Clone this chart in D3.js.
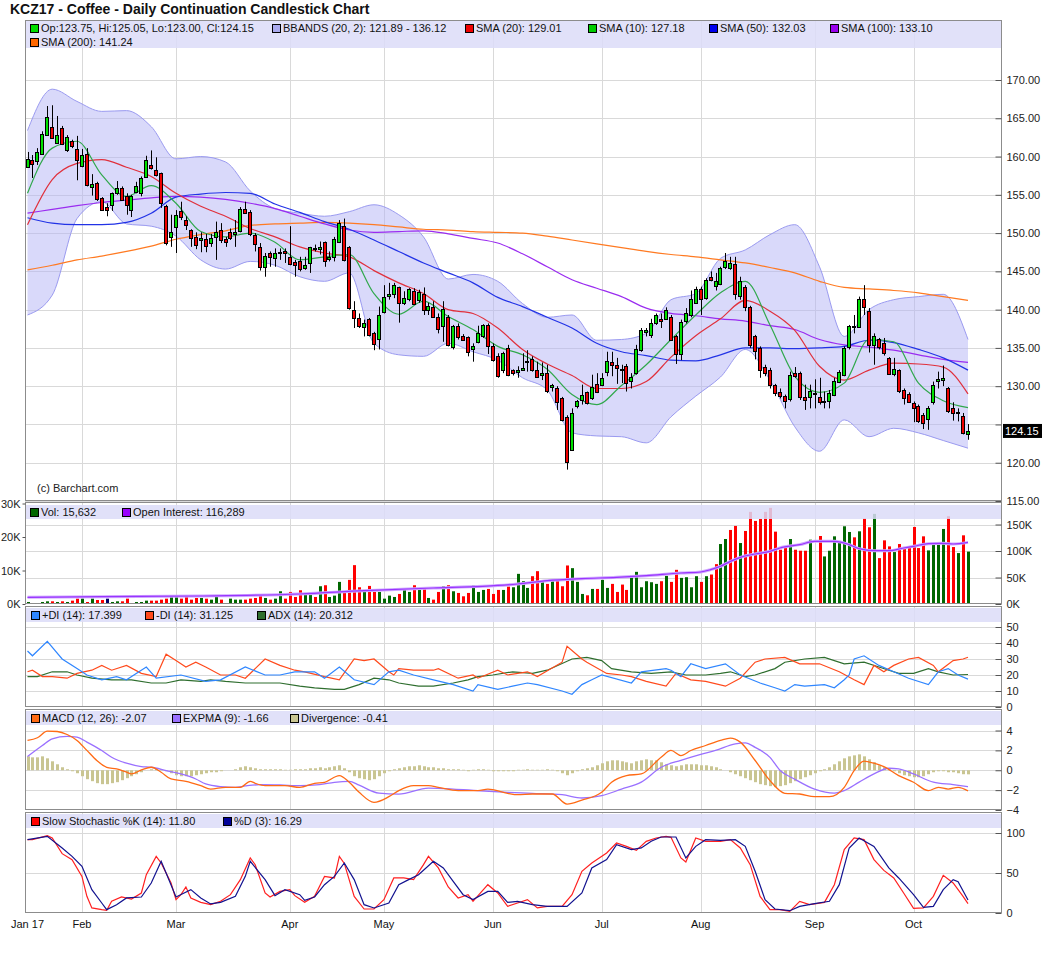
<!DOCTYPE html>
<html>
<head>
<meta charset="utf-8">
<title>KCZ17 - Coffee</title>
<script src="https://cdn.jsdelivr.net/npm/d3@7/dist/d3.min.js"></script>
<style>
body { margin: 0; background: #fff; }
svg { font-family: "Liberation Sans", Arial, sans-serif; }
</style>
</head>
<body>
<div id="chart"></div>
<script>
// ---- values ----
var titleText = "KCZ17 - Coffee - Daily Continuation Candlestick Chart";
var monthLabels = ["Jan 17", "Feb", "Mar", "Apr", "May", "Jun", "Jul", "Aug", "Sep", "Oct"];
var holidays = ["2017-02-20", "2017-04-14", "2017-05-29", "2017-07-04", "2017-09-04"];

var opens = [
  158.6,159.6,159.4,160.4,162.8,163.9,161.8,163.7,160.8,162.0,
  161.0,158.8,160.3,156.0,156.5,154.6,153.4,153.6,155.2,155.9,
  154.8,153.0,155.3,155.2,157.3,158.9,158.3,157.8,153.6,149.5,
  150.8,152.9,151.7,150.4,149.5,149.1,149.2,148.7,149.5,150.4,
  149.2,150.1,149.9,150.2,153.2,152.7,149.8,148.2,145.5,147.4,
  146.8,147.4,147.6,146.9,146.2,146.4,145.4,146.1,147.9,148.0,
  148.8,146.7,146.9,148.8,150.9,148.2,140.0,138.9,137.8,138.8,
  136.9,136.1,139.7,141.8,142.0,142.9,140.8,141.4,142.5,141.2,
  142.1,140.0,140.4,139.0,137.9,139.1,135.1,137.9,136.6,136.4,
  134.8,135.8,136.5,138.0,135.3,134.0,132.1,135.0,132.1,131.9,
  132.2,133.2,133.5,132.1,131.5,131.7,129.9,129.8,128.4,126.0,
  121.7,127.4,128.2,129.2,128.4,130.3,130.2,131.8,133.1,132.8,
  132.1,132.6,130.7,131.7,134.7,137.2,136.7,138.2,138.8,138.8,
  139.1,136.5,134.2,138.5,139.3,140.9,142.7,141.5,144.2,143.1,
  143.4,145.5,145.5,146.0,141.9,143.0,140.4,136.5,135.0,132.5,
  132.1,130.2,129.2,128.7,128.3,131.7,131.7,128.6,128.6,129.0,
  128.6,127.9,128.0,128.9,130.6,131.5,135.0,137.8,137.8,141.4,
  139.8,135.3,136.1,135.7,133.7,131.6,132.1,129.5,129.0,127.8,
  127.4,126.3,125.7,127.9,130.8,130.8,129.7,127.1,126.6,126.05,
  123.75];
var highs = [
  160.6,160.2,161.1,163.3,166.6,166.7,165.3,164.0,162.8,162.2,
  162.7,161.0,161.1,157.7,156.7,154.7,153.9,155.3,156.8,156.1,
  155.2,155.0,156.7,157.4,160.1,160.8,159.9,157.9,153.7,152.4,
  153.0,154.1,152.2,150.5,150.1,150.1,149.9,149.9,151.5,151.3,
  149.5,150.6,151.7,153.4,154.1,153.0,150.0,148.7,147.4,147.6,
  148.0,148.0,148.0,150.9,146.5,146.9,146.9,148.2,148.5,148.9,
  148.9,147.6,149.5,151.7,151.9,148.3,141.1,139.5,138.7,138.9,
  137.1,140.4,143.2,143.5,143.5,143.0,142.4,142.8,142.8,142.6,
  142.9,140.9,141.1,139.5,141.1,139.3,138.0,138.2,136.8,136.5,
  135.6,137.9,138.1,138.2,135.6,134.3,134.5,135.4,132.2,132.6,
  134.3,134.7,133.9,133.2,133.1,132.8,130.3,130.0,128.6,126.2,
  127.1,128.2,130.2,129.3,131.5,131.7,131.7,134.5,134.5,133.7,
  132.8,132.9,131.7,135.4,137.6,137.6,138.8,139.5,139.5,140.3,
  139.3,136.7,138.7,140.2,142.5,143.0,143.0,144.1,145.0,144.8,
  145.6,147.4,146.9,146.9,144.3,143.2,140.5,136.7,135.2,132.8,
  132.4,130.3,129.7,128.9,131.9,132.5,131.9,130.2,130.2,130.9,
  131.1,129.3,129.5,131.1,132.1,135.2,138.0,139.3,141.7,143.2,
  140.2,136.9,136.3,136.3,133.8,133.7,132.2,129.7,129.2,128.0,
  127.6,126.5,127.4,130.6,131.9,132.7,129.9,127.9,127.1,126.5,
  125.05];
var lows = [
  158.5,157.2,158.9,160.3,162.7,162.3,161.7,161.5,160.6,161.1,
  156.9,158.6,156.1,154.9,154.2,152.9,152.2,152.9,155.0,154.2,
  152.4,152.1,155.2,154.8,157.2,158.3,157.4,153.3,148.4,148.2,
  147.4,151.7,150.4,148.2,147.9,147.5,147.5,148.2,146.5,148.7,
  148.2,149.1,148.2,150.1,152.6,149.6,147.6,145.1,144.3,145.6,
  145.6,146.5,146.1,145.8,144.3,145.0,145.2,144.8,147.6,147.2,
  145.6,146.3,146.3,148.7,146.3,140.0,137.6,137.6,136.5,136.5,
  134.7,134.8,139.5,141.3,141.5,138.3,140.6,141.1,140.6,140.9,
  139.3,139.3,139.0,136.9,135.8,135.2,134.8,136.1,136.0,133.9,
  133.2,135.6,136.3,134.2,133.2,131.1,131.7,131.3,131.4,131.1,
  132.1,131.9,131.9,131.1,130.8,129.1,129.3,126.9,125.4,119.1,
  121.6,127.1,127.6,127.6,128.2,129.1,130.0,131.3,131.3,130.3,
  130.4,129.3,129.7,131.5,134.5,136.5,136.3,138.0,137.6,138.7,
  136.0,132.9,133.4,138.2,139.0,140.8,139.3,141.3,143.7,142.5,
  143.2,145.3,145.2,141.3,141.3,139.8,135.0,133.5,131.1,131.3,
  129.7,128.7,128.4,127.1,128.0,131.1,128.2,126.9,127.1,127.1,
  127.6,127.1,127.1,128.7,130.4,131.3,134.8,136.9,137.6,139.3,
  134.4,132.8,134.8,134.0,131.5,131.3,129.1,127.6,127.8,125.3,
  125.2,124.4,124.3,127.6,129.7,130.0,126.5,125.5,125.4,123.7,
  123.00];
var closes = [
  159.7,159.1,160.6,163.0,165.2,162.4,162.8,161.6,162.5,161.4,
  159.5,160.2,156.2,156.4,154.4,153.0,153.0,155.2,155.9,154.3,
  153.6,154.8,156.1,157.2,159.5,158.5,157.6,153.9,148.8,150.2,
  152.4,152.1,151.0,149.3,148.5,149.4,148.3,149.3,150.2,149.1,
  148.8,149.3,150.1,153.1,152.7,149.8,148.6,145.6,147.0,146.9,
  147.4,147.5,147.4,146.0,145.8,145.3,145.8,148.2,148.0,148.2,
  146.3,146.9,149.2,151.3,146.5,140.2,138.9,137.8,138.3,136.7,
  135.5,139.3,141.6,142.0,143.2,140.8,141.5,142.7,140.8,142.3,
  140.0,140.5,139.1,137.4,140.1,135.4,137.8,136.4,136.1,134.5,
  135.2,137.0,138.0,135.3,133.5,131.4,134.3,131.5,131.7,132.1,
  132.4,133.3,132.1,131.2,131.7,129.3,130.1,128.0,125.5,120.1,
  126.5,128.0,128.9,127.8,129.9,129.3,131.1,133.3,132.7,132.4,
  132.2,130.4,131.2,134.8,137.3,137.4,138.3,139.3,138.6,140.0,
  136.1,134.2,138.4,139.5,141.4,142.7,141.4,143.9,143.8,143.7,
  145.5,146.3,146.1,142.1,143.8,140.4,135.5,134.5,132.1,131.7,
  130.2,129.1,128.7,128.0,131.4,131.3,128.6,128.2,129.4,129.1,
  127.9,128.0,129.1,130.7,131.9,135.0,137.8,137.7,141.4,140.3,
  135.4,136.5,135.0,134.4,131.6,132.3,129.3,128.4,128.0,127.1,
  125.4,125.2,127.1,130.1,131.0,131.1,126.7,126.4,126.5,123.8,
  124.15];

// volume in thousands of contracts
var volK = [
  0.6,0.3,0.2,0.6,0.8,0.8,0.6,0.8,0.6,1.0,
  1.6,1.6,0.6,1.6,1.2,1.2,1.6,0.6,0.8,0.8,
  1.6,0.3,0.6,0.6,1.0,1.0,1.0,1.3,1.6,2.1,
  2.2,1.6,2.1,1.3,1.8,1.8,1.6,1.3,2.4,1.3,
  0.3,1.6,1.3,1.3,1.3,1.6,1.8,2.6,1.8,1.3,
  1.6,3.8,1.6,3.6,2.1,4.1,3.3,2.8,2.1,5.3,
  5.6,2.1,2.5,6.6,3.3,7.2,11.6,5.0,4.2,5.4,
  3.6,3.6,1.6,2.5,2.1,3.0,4.5,3.6,5.6,4.2,
  4.8,1.8,1.3,3.6,5.3,5.6,3.8,3.3,2.3,3.3,
  5.6,3.6,4.2,4.5,3.0,4.2,4.2,5.2,5.0,9.0,
  6.8,4.8,8.3,9.8,6.8,6.0,6.8,7.3,5.3,11.5,
  10.7,6.6,3.0,2.6,4.5,4.5,7.2,4.8,6.0,3.6,
  5.8,4.2,8.6,9.6,5.0,6.8,6.5,6.0,6.8,8.4,
  6.6,10.2,7.8,8.0,5.0,8.3,6.6,8.3,8.8,11.9,
  17.9,19.4,22.1,23.3,18.2,21.8,27.5,24.8,25.4,27.5,
  28.7,21.6,16.2,16.7,19.4,16.2,15.9,15.9,19.2,0,
  20.3,14.2,15.9,20.2,18.7,23.2,21.5,19.9,21.7,25.5,
  22.9,26.9,13.7,19.0,17.2,15.5,17.9,16.5,16.7,23.0,
  16.7,20.2,16.0,18.2,17.7,22.4,26.2,17.0,15.2,20.5,
  15.632];

// open interest (thousands), read at these bars
var oiBars = [0,15,35,55,68,82,92,99,105,112,119,125,132,136,138,140,142,144,147,150,152,156,159,163,166,168,171,174,177,179,182,185,187,190];
var oiK = [12.6,13.8,15.1,18.9,25.2,30.2,33.3,37.7,44.0,47.8,50.3,53.5,58.5,60.4,64.8,71.1,80.5,88.1,94.3,99.4,105.7,112.0,118.2,118.2,112.0,104.4,100.6,100.6,105.7,108.8,113.8,114.5,113.2,116.3];

// overlay studies, read every 5th bar
var maBars = d3.range(0, 191, 5);
var sma10 = [155.2,161.1,162.0,157.6,154.8,156.2,153.9,150.2,149.5,150.0,148.8,146.5,146.9,147.2,142.1,139.4,141.1,139.1,137.4,135.2,134.1,132.2,128.9,127.6,130.1,132.8,136.1,139.3,142.2,143.7,138.0,131.3,129.2,130.4,136.1,135.8,130.4,128.1,127.2];
var sma20 = [151.1,157.0,159.1,159.6,158.6,157.4,155.2,153.5,152.2,150.6,149.5,148.2,147.4,146.9,145.1,143.5,142.1,140.0,139.5,137.6,134.8,132.9,131.4,129.7,129.7,130.6,133.8,136.6,138.8,141.2,139.8,137.3,132.6,130.8,132.1,133.0,132.9,132.5,129.0];
var sma50 = [152.0,151.3,151.1,151.1,151.4,152.6,154.7,155.1,155.3,155.2,153.8,152.7,151.5,150.5,149.1,147.6,146.1,144.8,143.5,141.6,140.4,139.0,137.6,135.6,134.5,134.0,133.4,133.3,134.1,135.0,135.0,134.9,135.0,135.2,136.0,135.7,134.8,133.7,132.1];
var sma100 = [152.6,153.1,153.6,154.0,154.3,154.6,154.8,154.7,154.4,153.9,153.2,152.2,151.2,150.4,150.1,150.2,150.3,149.9,149.3,148.7,147.3,145.6,143.9,142.8,141.7,140.2,139.5,139.2,138.8,138.5,137.9,137.4,136.1,135.4,135.1,134.7,134.1,133.5,133.1];
var sma200 = [145.2,145.8,146.5,147.0,147.6,148.3,149.2,149.8,150.3,151.0,151.2,151.3,151.4,151.3,151.1,150.8,150.5,150.4,150.2,150.1,150.0,149.6,149.1,148.6,148.1,147.6,147.2,146.9,146.5,146.1,145.5,144.8,143.7,142.9,142.7,142.5,142.2,141.7,141.2];
var bbUpper = [163.4,168.8,167.2,165.9,166.0,163.9,159.7,160.0,159.3,155.5,153.2,152.6,152.2,152.8,153.7,152.4,149.5,144.0,144.6,143.7,140.8,139.0,139.3,136.0,136.1,136.9,141.3,142.1,146.7,147.8,149.8,151.1,145.6,136.5,140.0,141.3,141.7,142.0,136.1];
var bbLower = [139.3,141.9,151.9,154.1,151.2,150.9,149.6,146.5,145.3,146.3,145.8,144.3,143.7,144.8,135.6,134.1,133.9,135.6,134.5,133.4,131.1,129.5,123.9,123.5,123.4,122.6,126.0,128.7,131.2,134.8,130.8,124.7,121.5,125.6,123.4,124.5,123.9,122.9,121.9];

// [bar, value] readings of the lower studies
var plusDI = [[0,35],[1,32],[4,41],[7,30],[10,24],[12,20],[15,17],[18,19],[20,17],[24,25],[26,18],[31,20],[36,16],[39,17],[44,25],[48,20],[51,20],[54,22],[58,22],[60,18],[63,25],[66,17],[70,14],[73,22],[75,23],[78,20],[82,17],[86,14],[90,10],[91,14],[95,11],[98,13],[101,15],[103,14],[108,10],[110,8],[112,14],[114,17],[116,20],[122,15],[124,22],[129,24],[130,23],[132,19],[134,27],[137,24],[141,27],[144,20],[148,15],[151,12],[153,10],[155,14],[157,13],[161,14],[163,12],[165,17],[166,20],[167,30],[169,32],[172,26],[175,22],[178,18],[182,14],[184,22],[186,24],[188,20],[190,17.4]];
var minusDI = [[0,22],[1,23],[3,19],[5,19],[8,18],[10,21],[13,23],[15,26],[17,23],[20,26],[23,21],[26,19],[28,33],[30,29],[32,25],[34,28],[36,25],[39,20],[42,20],[44,18],[48,30],[51,26],[54,23],[56,22],[60,19],[63,17],[66,30],[68,29],[70,30],[73,22],[74,20],[75,24],[78,23],[82,23],[83,24],[87,18],[90,20],[91,18],[95,23],[97,20],[101,22],[103,19],[108,28],[109,38],[112,30],[113,28],[117,21],[120,20],[122,19],[125,16],[129,13],[131,21],[134,17],[137,16],[141,13],[144,18],[147,28],[149,30],[153,31],[156,27],[160,27],[164,22],[167,17],[169,14],[171,26],[173,22],[175,26],[178,30],[180,31],[183,26],[184,22],[187,29],[189,30],[190,31.1]];
var adx = [[0,19],[2,19],[5,22],[8,22],[10,20],[13,18],[17,17],[21,17],[25,15],[28,15],[31,17],[35,16],[37,17],[40,16],[44,15],[48,15],[51,15],[55,13],[58,12],[62,11],[64,11],[67,14],[70,18],[73,17],[75,15],[79,13],[82,13],[86,15],[89,17],[91,19],[94,20],[98,22],[102,21],[105,23],[110,30],[113,31],[116,29],[118,24],[122,22],[126,21],[130,22],[133,20],[137,20],[140,21],[142,22],[145,19],[147,20],[151,24],[153,28],[157,30],[161,31],[165,27],[169,28],[172,25],[176,21],[179,21],[182,24],[184,22],[187,20],[190,20.3]];

var macdLine = [[0,3.0],[2,3.27],[4,3.94],[6,3.9],[8,3.6],[10,3.0],[12,2.0],[14,0.98],[16,0.3],[18,0.13],[20,-0.2],[21,-0.37],[23,0.03],[25,0.3],[27,-0.2],[29,-0.88],[32,-1.11],[35,-1.55],[37,-1.89],[40,-1.72],[43,-1.72],[45,-1.11],[46,-1.31],[48,-1.55],[52,-1.55],[55,-1.72],[58,-1.31],[60,-1.21],[63,-0.54],[65,-1.21],[67,-2.22],[70,-3.23],[73,-2.66],[75,-2.05],[78,-1.55],[81,-1.55],[83,-1.72],[87,-2.05],[91,-2.05],[93,-1.89],[97,-2.32],[99,-2.46],[102,-2.39],[106,-2.39],[109,-3.4],[112,-3.0],[116,-2.22],[118,-1.21],[121,-0.54],[124,-0.37],[128,1.31],[130,1.99],[132,1.48],[134,1.99],[137,2.49],[140,3.0],[142,3.23],[144,2.83],[147,0.98],[150,-1.04],[153,-2.32],[156,-2.39],[159,-2.66],[162,-2.66],[165,-1.72],[167,-0.03],[169,0.91],[171,0.71],[173,0.37],[176,-0.54],[179,-1.21],[182,-2.05],[184,-1.72],[186,-1.89],[188,-1.72],[190,-2.07]];
var signalLine = [[0,1.38],[3,2.49],[5,3.16],[8,3.4],[10,3.33],[12,2.83],[15,1.99],[17,1.31],[20,0.71],[23,0.37],[25,0.3],[28,-0.03],[31,-0.37],[34,-0.88],[36,-1.38],[39,-1.65],[42,-1.72],[44,-1.58],[47,-1.45],[51,-1.48],[55,-1.55],[59,-1.45],[62,-1.21],[65,-1.11],[67,-1.5],[71,-2.3],[75,-2.4],[81,-1.8],[86,-1.89],[91,-2.05],[97,-2.22],[102,-2.32],[108,-2.46],[112,-2.79],[116,-2.56],[120,-1.9],[124,-1.2],[128,0.3],[132,1.0],[136,1.6],[139,2.0],[143,2.65],[145,2.75],[147,2.3],[150,1.3],[152,0.0],[155,-0.9],[159,-1.9],[163,-2.3],[165,-2.05],[168,-1.2],[171,-0.37],[174,0.2],[176,0.13],[179,-0.37],[183,-1.2],[187,-1.45],[190,-1.66]];
var divergence = [
  1.4,1.3,1.3,1.4,1.2,0.9,0.6,0.3,0.1,-0.1,
  -0.3,-0.6,-0.9,-1.1,-1.3,-1.4,-1.4,-1.3,-1.2,-1.0,
  -0.8,-0.6,-0.4,-0.2,0.0,0.1,0.2,0.1,-0.1,-0.3,
  -0.5,-0.6,-0.6,-0.6,-0.5,-0.4,-0.3,-0.2,-0.2,-0.1,
  0.0,0.0,0.1,0.3,0.4,0.3,0.2,0.1,0.1,0.1,
  0.1,0.1,0.05,0.05,0.1,0.1,0.1,0.2,0.2,0.3,
  0.2,0.3,0.4,0.5,0.2,-0.2,-0.6,-0.8,-0.9,-1.0,
  -0.9,-0.6,-0.3,-0.1,0.1,0.2,0.3,0.4,0.4,0.5,
  0.4,0.3,0.3,0.2,0.2,0.1,0.1,0.1,0.05,-0.1,
  0.05,0.1,0.1,0.05,-0.1,-0.1,-0.1,-0.1,-0.1,0.05,
  0.05,0.1,0.05,0.05,0.05,0.1,0.05,-0.1,-0.3,-0.5,
  -0.3,-0.1,0.1,0.2,0.3,0.5,0.7,0.9,1.0,1.0,
  0.9,0.8,0.7,0.9,1.0,1.1,1.0,1.0,0.8,0.6,
  0.5,0.4,0.5,0.6,0.6,0.6,0.5,0.5,0.4,0.3,
  0.1,0.0,-0.2,-0.4,-0.6,-0.8,-1.0,-1.2,-1.4,-1.5,
  -1.6,-1.7,-1.6,-1.5,-1.3,-1.1,-0.9,-0.7,-0.5,-0.3,
  -0.1,0.1,0.3,0.6,0.9,1.2,1.4,1.5,1.6,1.4,
  1.1,0.8,0.5,0.3,0.1,-0.1,-0.3,-0.5,-0.6,-0.7,
  -0.7,-0.6,-0.4,-0.2,-0.1,-0.1,-0.2,-0.2,-0.3,-0.4,
  -0.41];

var stochK = [[0,91.7],[1,91.7],[4,96.7],[5,93.8],[7,74.2],[9,66.7],[11,45.8],[12,20.8],[13,6.3],[15,4.2],[16,3.3],[17,14.6],[19,20],[21,17.5],[23,25],[24,47.9],[26,70.8],[27,62.5],[29,37.5],[30,16.7],[31,22.9],[32,32.5],[33,18.8],[35,13.3],[37,10.4],[39,14.6],[41,22.9],[43,41.7],[45,68.8],[46,60.4],[48,25],[49,20],[51,27],[53,29.2],[54,21.7],[56,13.3],[58,20.8],[60,45.8],[62,43.8],[63,70.8],[64,62],[66,20.8],[68,5],[70,5],[72,16.7],[74,43.8],[76,43.8],[78,41.7],[80,60.4],[81,70.8],[83,56.3],[85,32.5],[87,18.8],[89,22.9],[90,14.6],[93,35.4],[95,25],[97,8.3],[99,12.5],[101,16.7],[103,6.3],[105,8.3],[108,8.3],[110,22.9],[112,52.1],[114,62.5],[117,75],[119,87.5],[121,83.3],[123,78.3],[125,89.6],[127,93.8],[129,95.8],[130,94.6],[132,68.8],[133,63.8],[135,93.8],[137,89.6],[140,89.6],[142,91.7],[144,81.3],[146,60.4],[148,20.8],[150,4.2],[152,4.2],[154,2.1],[156,14.6],[158,10.4],[161,13.3],[163,35.4],[165,79.2],[167,93.8],[169,91.7],[171,66.7],[173,53.3],[175,43.8],[177,25],[179,5.8],[181,6.3],[183,20.8],[185,47.1],[187,37.5],[189,20.8],[190,11.8]];
var stochD = [[0,91.7],[4,95.8],[7,81.3],[9,70.8],[11,58.3],[13,29.2],[15,12.5],[16,4.2],[18,10.4],[20,18.8],[23,20],[25,37.5],[27,64.6],[28,50],[30,20],[33,29.2],[35,18.8],[37,11.3],[39,13.3],[42,20.8],[44,45.8],[45,64.6],[48,41.7],[50,21.7],[52,29.2],[55,22.9],[56,15.8],[58,20],[60,35.4],[62,45.8],[64,62.5],[66,41.7],[68,10.4],[70,6.3],[73,12.5],[75,35.4],[77,41.7],[79,47.9],[82,64.6],[84,56.3],[86,39.6],[88,22.9],[90,16.7],[93,27],[95,27],[97,13.3],[99,14.6],[102,10.4],[105,8.3],[109,8.3],[112,25],[114,56.3],[117,66.7],[119,85.4],[122,79.2],[124,81.3],[126,89.6],[128,95],[131,95],[133,68.8],[135,83.3],[137,91.7],[140,90.8],[143,91.7],[145,83.3],[147,52.1],[149,16.7],[151,5],[154,2.9],[156,8.3],[159,11.7],[162,14.6],[164,35.4],[166,81.3],[168,93.8],[171,83.3],[174,56.3],[176,43.8],[179,22.9],[181,7.1],[183,8.3],[185,29.2],[187,41.7],[188,39],[190,16.3]];

var mainLegendLabels = ["Op:123.75, Hi:125.05, Lo:123.00, Cl:124.15", "BBANDS (20, 2): 121.89 - 136.12", "SMA (20): 129.01", "SMA (10): 127.18", "SMA (50): 132.03", "SMA (100): 133.10", "SMA (200): 141.24"];
var volLegendLabels = ["Vol: 15,632", "Open Interest: 116,289"];
var dmiLegendLabels = ["+DI (14): 17.399", "-DI (14): 31.125", "ADX (14): 20.312"];
var macdLegendLabels = ["MACD (12, 26): -2.07", "EXPMA (9): -1.66", "Divergence: -0.41"];
var stochLegendLabels = ["Slow Stochastic %K (14): 11.80", "%D (3): 16.29"];
var lastPriceLabel = "124.15";

// ---- layout ----
var w = 1043, h = 954;
var L = 25, R = 1002;
var fontFam = "Liberation Sans, Arial, sans-serif";
var svg = d3.select("#chart").append("svg").attr("width", w).attr("height", h);
svg.append("rect").attr("width", w).attr("height", h).attr("fill", "#fff");

var fmtDay = d3.timeFormat("%Y-%m-%d");
var days = d3.timeDay.range(new Date(2017, 0, 17), new Date(2017, 9, 18)).filter(function(d) {
  return d.getDay() > 0 && d.getDay() < 6 && holidays.indexOf(fmtDay(d)) < 0;
});
var x = d3.scaleLinear().domain([0, days.length - 1]).range([27.5, 968]);
var monthStarts = d3.range(days.length).filter(function(i) {
  return i == 0 || days[i].getMonth() != days[i - 1].getMonth();
});
function px(i) { return Math.round(x(i)) + 0.5; }

var mainP = {top: 20, bottom: 501, id: "cMain"};
var volP = {top: 502, bottom: 604, id: "cVol"};
var dmiP = {top: 606, bottom: 707, id: "cDmi"};
var macdP = {top: 709, bottom: 810, id: "cMacd"};
var stoP = {top: 812, bottom: 913, id: "cSto"};

var yMain = d3.scaleLinear().domain([115, 170]).range([501, 80]);
var yVol = d3.scaleLinear().domain([0, 30]).range([604, 503.5]);
var yOI = d3.scaleLinear().domain([0, 150]).range([604, 524.5]);
var yDmi = d3.scaleLinear().domain([0, 50]).range([707, 627]);
var yMacd = d3.scaleLinear().domain([-4, 4]).range([810, 730.5]);
var ySto = d3.scaleLinear().domain([0, 100]).range([913, 833]);

function panelBase(p, gridYs) {
  var g = svg.append("g");
  svg.append("clipPath").attr("id", p.id).append("rect")
    .attr("x", L).attr("y", p.top).attr("width", R - L).attr("height", p.bottom - p.top);
  g.selectAll(null).data(gridYs).enter().append("line")
    .attr("x1", L).attr("x2", R)
    .attr("y1", function(d) { return Math.round(d) + 0.5; })
    .attr("y2", function(d) { return Math.round(d) + 0.5; })
    .attr("stroke", "#d9d9d9");
  g.selectAll(null).data(monthStarts.slice(1)).enter().append("line")
    .attr("x1", px).attr("x2", px)
    .attr("y1", p.top).attr("y2", p.bottom)
    .attr("stroke", "#d9d9d9");
  return g.append("g").attr("clip-path", "url(#" + p.id + ")");
}

function legendBand(y0, hgt, items) {
  svg.append("rect").attr("x", L).attr("y", y0).attr("width", R - L).attr("height", hgt)
    .attr("fill", "#dcdcf8").attr("opacity", 0.85);
  items.forEach(function(it) {
    svg.append("rect").attr("x", it.x + 0.5).attr("y", Math.round(it.cy - 4) + 0.5)
      .attr("width", 8).attr("height", 8).attr("fill", it.color).attr("stroke", "#000");
    svg.append("text").attr("x", it.x + 11).attr("y", it.cy + 4)
      .attr("font-size", 11).attr("font-family", fontFam).attr("fill", "#111").text(it.label);
  });
}

function border(p) {
  svg.append("rect").attr("x", L + 0.5).attr("y", p.top + 0.5)
    .attr("width", R - L - 1).attr("height", p.bottom - p.top - 1)
    .attr("fill", "none").attr("stroke", "#8c8c8c");
}

function rightAxis(scale, ticks, fmt) {
  var g = svg.append("g").attr("transform", "translate(" + (R - 0.5) + ",0)")
    .call(d3.axisRight(scale).tickValues(ticks).tickFormat(fmt).tickSize(-6).tickPadding(5));
  g.select(".domain").remove();
  g.attr("font-size", 11).attr("font-family", fontFam);
  g.selectAll("line").attr("stroke", "#555");
  g.selectAll("text").attr("fill", "#222");
  return g;
}

function pairLine(scale) {
  return d3.line().x(function(d) { return x(d[0]); }).y(function(d) { return scale(d[1]); });
}

// ---- title ----
svg.append("text").attr("x", 10).attr("y", 14).attr("font-size", 14).attr("font-weight", "bold")
  .attr("font-family", fontFam).attr("fill", "#111").text(titleText);

// ---- main price panel ----
var priceTicks = d3.range(115, 171, 5);
var mg = panelBase(mainP, priceTicks.map(yMain));

var bandArea = d3.area().curve(d3.curveMonotoneX)
  .x(function(d, i) { return x(maBars[i]); })
  .y0(function(d, i) { return yMain(bbLower[i]); })
  .y1(function(d, i) { return yMain(bbUpper[i]); });
mg.append("path").datum(bbUpper).attr("d", bandArea).attr("fill", "#b4b4f5").attr("opacity", 0.5);
[bbUpper, bbLower].forEach(function(arr) {
  mg.append("path").datum(arr)
    .attr("d", d3.line().curve(d3.curveMonotoneX).x(function(d, i) { return x(maBars[i]); }).y(function(d) { return yMain(d); }))
    .attr("fill", "none").attr("stroke", "#9a9af0").attr("stroke-width", 1);
});

var maSeries = [
  {v: sma200, c: "#ff7a22"},
  {v: sma100, c: "#9a2cf0"},
  {v: sma50, c: "#2233e6"},
  {v: sma20, c: "#e0303c"},
  {v: sma10, c: "#30a84c"}
];
maSeries.forEach(function(s) {
  mg.append("path").datum(s.v)
    .attr("d", d3.line().curve(d3.curveMonotoneX).x(function(d, i) { return x(maBars[i]); }).y(function(d) { return yMain(d); }))
    .attr("fill", "none").attr("stroke", s.c).attr("stroke-width", 1.2);
});

var idx = d3.range(closes.length);
mg.selectAll("line.wick").data(idx).enter().append("line")
  .attr("x1", px).attr("x2", px)
  .attr("y1", function(i) { return yMain(highs[i]); })
  .attr("y2", function(i) { return yMain(lows[i]); })
  .attr("stroke", "#000");
mg.selectAll("rect.body").data(idx).enter().append("rect")
  .attr("x", function(i) { return Math.round(x(i)) - 1.5; })
  .attr("width", 3)
  .attr("y", function(i) { return Math.round(yMain(Math.max(opens[i], closes[i]))) + 0.5; })
  .attr("height", function(i) { return Math.max(1, Math.round(Math.abs(yMain(opens[i]) - yMain(closes[i])))); })
  .attr("fill", function(i) { return closes[i] >= opens[i] ? "#00e000" : "#ee0000"; })
  .attr("stroke", "#000");

svg.append("text").attr("x", 37).attr("y", 492).attr("font-size", 11).attr("font-family", fontFam)
  .attr("fill", "#222").text("(c) Barchart.com");

legendBand(21, 27, [
  {x: 30, cy: 28, color: "#00dd00", label: mainLegendLabels[0]},
  {x: 272, cy: 28, color: "#aaaaee", label: mainLegendLabels[1]},
  {x: 465, cy: 28, color: "#ee0000", label: mainLegendLabels[2]},
  {x: 588, cy: 28, color: "#00cc00", label: mainLegendLabels[3]},
  {x: 709, cy: 28, color: "#0000ee", label: mainLegendLabels[4]},
  {x: 830, cy: 28, color: "#9900ee", label: mainLegendLabels[5]},
  {x: 30, cy: 42, color: "#ff6600", label: mainLegendLabels[6]}
]);
border(mainP);
var ly = yMain(closes[closes.length - 1]);
var pax = rightAxis(yMain, priceTicks, d3.format(".2f"));
// the last-price box sits over the nearest tick label, as on the original
pax.selectAll(".tick text").filter(function(d) { return Math.abs(yMain(d) - ly) < 10; }).remove();
svg.append("rect").attr("x", 1003).attr("y", ly - 7).attr("width", 39).attr("height", 14).attr("fill", "#000");
svg.append("text").attr("x", 1005).attr("y", ly + 4).attr("font-size", 11).attr("font-family", fontFam)
  .attr("fill", "#fff").text(lastPriceLabel);

// ---- volume / open interest ----
var oiTicks = [0, 50, 100, 150];
var vg = panelBase(volP, oiTicks.slice(1).map(yOI));
vg.selectAll("rect.vol").data(idx.filter(function(i) { return volK[i] > 0; })).enter().append("rect")
  .attr("x", function(i) { return Math.round(x(i)) - 1; })
  .attr("width", 3)
  .attr("y", function(i) { return yVol(volK[i]); })
  .attr("height", function(i) { return yVol(0) - yVol(volK[i]); })
  .attr("fill", function(i) {
    var prev = i > 0 ? closes[i - 1] : opens[i];
    if (closes[i] > prev) return "#006600";
    if (closes[i] < prev) return "#ff0000";
    return "#000066";
  });
var oiPts = oiBars.map(function(b, i) { return [b, oiK[i]]; });
vg.append("path").datum(oiPts).attr("d", pairLine(yOI).curve(d3.curveMonotoneX))
  .attr("fill", "none").attr("stroke", "#cfa8ff").attr("stroke-width", 3);
vg.append("path").datum(oiPts).attr("d", pairLine(yOI).curve(d3.curveMonotoneX))
  .attr("fill", "none").attr("stroke", "#9933ff").attr("stroke-width", 1.2);
legendBand(505, 14, [
  {x: 30, cy: 512, color: "#006600", label: volLegendLabels[0]},
  {x: 122, cy: 512, color: "#9900ff", label: volLegendLabels[1]}
]);
border(volP);
rightAxis(yOI, oiTicks, function(d) { return d + "K"; });
var la = svg.append("g").attr("transform", "translate(" + (L + 0.5) + ",0)")
  .call(d3.axisLeft(yVol).tickValues([0, 10, 20, 30]).tickFormat(function(d) { return d + "K"; }).tickSize(3).tickPadding(2));
la.select(".domain").remove();
la.attr("font-size", 11).attr("font-family", fontFam);
la.selectAll("line").attr("stroke", "#555");
la.selectAll("text").attr("fill", "#222");

// ---- DMI ----
var dmiTicks = [0, 10, 20, 30, 40, 50];
var dg = panelBase(dmiP, dmiTicks.slice(1).map(yDmi));
[{d: adx, c: "#2f6e2f"}, {d: minusDI, c: "#ff4a1c"}, {d: plusDI, c: "#2f86ff"}].forEach(function(s) {
  dg.append("path").datum(s.d).attr("d", pairLine(yDmi))
    .attr("fill", "none").attr("stroke", s.c).attr("stroke-width", 1.2);
});
legendBand(608, 14, [
  {x: 31, cy: 615, color: "#2f86ff", label: dmiLegendLabels[0]},
  {x: 145, cy: 615, color: "#ff4a1c", label: dmiLegendLabels[1]},
  {x: 257, cy: 615, color: "#2f6e2f", label: dmiLegendLabels[2]}
]);
border(dmiP);
rightAxis(yDmi, dmiTicks, d3.format("d"));

// ---- MACD ----
var macdTicks = [-4, -2, 0, 2, 4];
var cg = panelBase(macdP, macdTicks.slice(1).map(yMacd));
cg.selectAll("rect.div").data(idx).enter().append("rect")
  .attr("x", function(i) { return Math.round(x(i)) - 1; })
  .attr("width", 3)
  .attr("y", function(i) { return Math.min(yMacd(0), yMacd(divergence[i])); })
  .attr("height", function(i) { return Math.abs(yMacd(divergence[i]) - yMacd(0)); })
  .attr("fill", "#c9c592");
cg.append("path").datum(signalLine).attr("d", pairLine(yMacd).curve(d3.curveMonotoneX))
  .attr("fill", "none").attr("stroke", "#9a70ff").attr("stroke-width", 1.3);
cg.append("path").datum(macdLine).attr("d", pairLine(yMacd).curve(d3.curveMonotoneX))
  .attr("fill", "none").attr("stroke", "#ff6a14").attr("stroke-width", 1.3);
legendBand(711, 14, [
  {x: 31, cy: 718, color: "#ff6a14", label: macdLegendLabels[0]},
  {x: 172, cy: 718, color: "#9a70ff", label: macdLegendLabels[1]},
  {x: 290, cy: 718, color: "#c9c592", label: macdLegendLabels[2]}
]);
border(macdP);
rightAxis(yMacd, macdTicks, d3.format("d"));

// ---- Stochastic ----
var stoTicks = [0, 50, 100];
var sg = panelBase(stoP, stoTicks.slice(1).map(ySto));
sg.append("path").datum(stochK).attr("d", pairLine(ySto))
  .attr("fill", "none").attr("stroke", "#ff2020").attr("stroke-width", 1.2);
sg.append("path").datum(stochD).attr("d", pairLine(ySto))
  .attr("fill", "none").attr("stroke", "#12128f").attr("stroke-width", 1.2);
legendBand(814, 14, [
  {x: 31, cy: 821, color: "#ff0000", label: stochLegendLabels[0]},
  {x: 223, cy: 821, color: "#000099", label: stochLegendLabels[1]}
]);
border(stoP);
rightAxis(ySto, stoTicks, d3.format("d"));

// ---- month labels ----
svg.selectAll("text.month").data(monthStarts).enter().append("text")
  .attr("x", function(i) { return x(i); }).attr("y", 928)
  .attr("text-anchor", "middle").attr("font-size", 11).attr("font-family", fontFam)
  .attr("fill", "#111")
  .text(function(i, k) { return monthLabels[k]; });
</script>
</body>
</html>
